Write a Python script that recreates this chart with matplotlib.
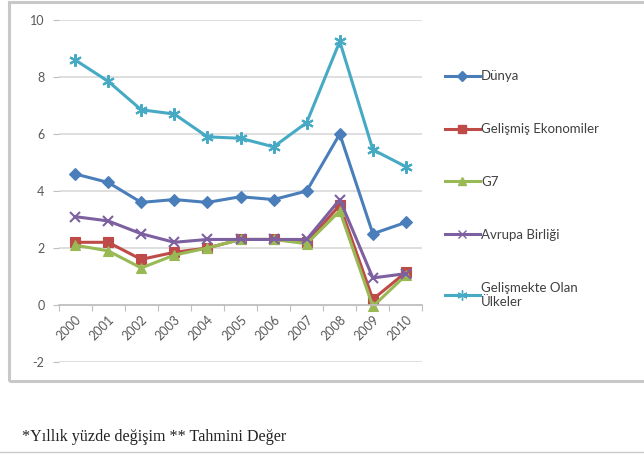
import matplotlib.pyplot as plt
from matplotlib.patches import Rectangle
from matplotlib.lines import Line2D

# yıllar ve seriler (yıllık yüzde değişim)
years = ["2000", "2001", "2002", "2003", "2004", "2005", "2006", "2007", "2008", "2009", "2010"]
dunya = [4.6, 4.3, 3.6, 3.7, 3.6, 3.8, 3.7, 4.0, 6.0, 2.5, 2.9]
gelismis = [2.2, 2.2, 1.6, 1.85, 2.0, 2.3, 2.3, 2.2, 3.5, 0.2, 1.15]
g7 = [2.1, 1.9, 1.3, 1.75, 2.0, 2.3, 2.3, 2.15, 3.3, -0.05, 1.05]
avrupa = [3.1, 2.95, 2.5, 2.2, 2.3, 2.3, 2.3, 2.3, 3.7, 0.95, 1.1]
gelismekte = [8.6, 7.85, 6.85, 6.7, 5.9, 5.85, 5.55, 6.4, 9.25, 5.45, 4.85]

series = [
    ("Dünya", dunya, "#4A7EBB", "D", 6),
    ("Gelişmiş Ekonomiler", gelismis, "#BE4B48", "s", 7),
    ("G7", g7, "#98B954", "^", 7),
    ("Avrupa Birliği", avrupa, "#7D60A0", "x", 7),
    ("Gelişmekte Olan\nÜlkeler", gelismekte, "#46AAC5", (6, 2, 0), 9),
]

plt.rcParams['font.family'] = ['Lato', 'DejaVu Sans']
plt.rcParams['axes.unicode_minus'] = False

W, H = 644, 455
fig = plt.figure(figsize=(W / 100, H / 100), dpi=100)
fig.patch.set_facecolor("white")

# grafik çerçevesi
fig.patches.append(Rectangle((9 / W, 1 - 381 / H), 640 / W, 379 / H,
                             transform=fig.transFigure, fill=False,
                             edgecolor="#C8C8C8", linewidth=2.2))

ax = fig.add_axes([58.5 / W, 1 - 362 / H, 364 / W, 342 / H])
x = list(range(len(years)))
for name, vals, col, mk, ms in series:
    ax.plot(x, vals, color=col, linewidth=2.2, marker=mk, markersize=ms,
            markeredgewidth=1.5 if mk in ("x",) or isinstance(mk, tuple) else 0.8,
            markeredgecolor=col, markerfacecolor=col, label=name)

ax.set_xlim(-0.5, len(years) - 0.5)
ax.set_ylim(-2, 10)
ax.set_yticks(range(-2, 11, 2))
ax.yaxis.grid(True, color="#D9D9D9", linewidth=1.2)
ax.set_axisbelow(True)
for s in ("top", "right", "left"):
    ax.spines[s].set_visible(False)
ax.spines["bottom"].set_position(("data", 0))
ax.spines["bottom"].set_color("#BFBFBF")
ax.spines["bottom"].set_linewidth(1.2)

ax.set_xticks([i - 0.5 for i in range(len(years) + 1)], minor=False)
ax.set_xticklabels([])
ax.set_xticks(x, minor=True)
ax.set_xticklabels(years, minor=True, rotation=45, ha="right",
                   rotation_mode="anchor", fontsize=9, color="#595959")
ax.tick_params(axis="x", which="major", length=4, color="#BFBFBF")
ax.tick_params(axis="x", which="minor", length=0, pad=6)
ax.tick_params(axis="y", length=4, color="#BFBFBF", labelsize=9,
               labelcolor="#595959", pad=6)

handles = [Line2D([], [], color=col, linewidth=2.2, marker=mk, markersize=ms * 0.8,
                  markeredgecolor=col, markerfacecolor=col)
           for _, _, col, mk, ms in series]
labels = [s[0] for s in series]
leg = fig.legend(handles, labels, loc="upper left",
                 bbox_to_anchor=(440 / W, 1 - 65 / H), frameon=False,
                 fontsize=9.5, handlelength=2.6, handletextpad=0.1,
                 labelspacing=3.1, borderaxespad=0)
for t in leg.get_texts():
    t.set_color("#404040")

# dipnot
fig.text(22 / W, 1 - 441 / H, "*Yıllık yüzde değişim ** Tahmini Değer",
         family="Liberation Serif", fontsize=11.6, color="#222222", va="baseline")
fig.lines.append(Line2D([0, 1], [1 - 452 / H, 1 - 452 / H],
                        transform=fig.transFigure, color="#C8C8C8", linewidth=1))

fig.savefig("out.png", dpi=100, facecolor="white")
